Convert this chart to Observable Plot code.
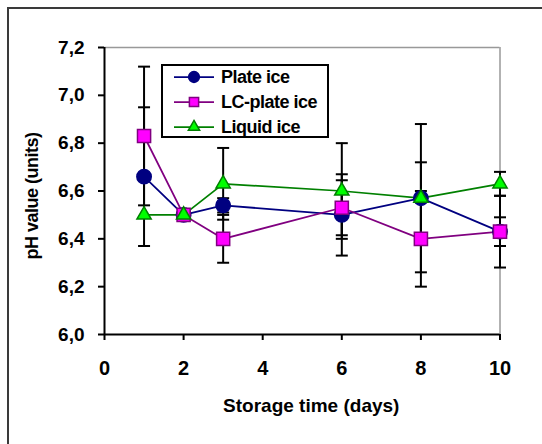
<!DOCTYPE html>
<html><head><meta charset="utf-8">
<script src="https://cdn.jsdelivr.net/npm/d3@7"></script>
<script src="https://cdn.jsdelivr.net/npm/@observablehq/plot@0.6"></script>
<style>
body{margin:0;background:#fff;}
#wrap{position:relative;width:542px;height:444px;overflow:hidden;background:#fff;font-family:"Liberation Sans",Arial,sans-serif;}
#border{position:absolute;left:7px;top:7px;width:600px;height:600px;border:2px solid #3a3a3a;box-sizing:border-box;}
#chart{position:absolute;left:0;top:0;}
#legend{position:absolute;left:161px;top:64px;width:168px;height:74px;border:2px solid #000;box-sizing:border-box;background:#fff;}
#legend svg{display:block;}
</style></head>
<body><div id="wrap"><div id="border"></div><div id="chart"></div><div id="legend"></div></div>
<script>
// ---- data ----
const days = [1, 2, 3, 6, 8, 10];
const seriesNames = ["Plate ice", "LC-plate ice", "Liquid ice"];
const plateIce      = [6.66, 6.50, 6.54, 6.50, 6.57, 6.43];
const plateIceErr   = [0.29, 0.00, 0.03, 0.17, 0.31, 0.06];
const lcPlateIce    = [6.83, 6.50, 6.40, 6.53, 6.40, 6.43];
const lcPlateIceErr = [0.29, 0.00, 0.10, 0.115, 0.20, 0.15];
const liquidIce     = [6.50, 6.50, 6.63, 6.60, 6.57, 6.63];
const liquidIceErr  = [0.00, 0.00, 0.15, 0.20, 0.15, 0.05];
const xTicks = [0, 2, 4, 6, 8, 10];
const yTicks = [6.0, 6.2, 6.4, 6.6, 6.8, 7.0, 7.2];
const xTitle = "Storage time (days)";
const yTitle = "pH value (units)";

// ---- styles ----
const styles = {
  "Plate ice":    {line: "#000080", fill: "#000080", stroke: "#000080", symbol: "circle",   r: 7.2, lr: 5.4},
  "LC-plate ice": {line: "#800080", fill: "#ff00ff", stroke: "#800080", symbol: "square",   r: 7.4, lr: 5.2},
  "Liquid ice":   {line: "#008000", fill: "#00ff00", stroke: "#008000", symbol: "triangle", r: 5.3, lr: 4.2}
};

const valueArrays = [plateIce, lcPlateIce, liquidIce];
const errArrays = [plateIceErr, lcPlateIceErr, liquidIceErr];
const rows = [];
seriesNames.forEach((s, i) => days.forEach((d, j) => rows.push({series: s, day: d, v: valueArrays[i][j], e: errArrays[i][j]})));
const errRows = rows.filter(r => r.e > 0);

const cap = {draw(ctx) { ctx.moveTo(-6, 0); ctx.lineTo(6, 0); }};
const fmt = d => d.toFixed(1).replace(".", ",");
const FF = "'Liberation Sans', Arial, sans-serif";

const marks = [
  Plot.ruleY([7.2], {stroke: "#999", strokeWidth: 1.5}),
  Plot.ruleX([10], {stroke: "#999", strokeWidth: 1.5}),
  Plot.ruleX(errRows, {x: "day", y1: d => d.v - d.e, y2: d => d.v + d.e, stroke: "#000", strokeWidth: 2}),
  Plot.dot(errRows, {x: "day", y: d => d.v + d.e, symbol: cap, stroke: "#000", strokeWidth: 2, r: 3}),
  Plot.dot(errRows, {x: "day", y: d => d.v - d.e, symbol: cap, stroke: "#000", strokeWidth: 2, r: 3}),
  Plot.ruleX([0], {stroke: "#000", strokeWidth: 2}),
  Plot.ruleY([6], {stroke: "#000", strokeWidth: 2}),
  Plot.axisX({ticks: xTicks, tickSize: 6, tickPadding: 20, tickFormat: d => String(d), strokeWidth: 2, fontSize: 20, fontWeight: "bold", label: null}),
  Plot.axisY({ticks: yTicks, tickSize: 6, tickPadding: 14, tickFormat: fmt, strokeWidth: 2, fontSize: 19, fontWeight: "bold", label: null}),
  Plot.text([xTitle], {frameAnchor: "bottom", textAnchor: "middle", lineAnchor: "middle", dx: 9, dy: 71, fontSize: 19, fontWeight: "bold", fill: "#000"}),
  Plot.text([yTitle], {frameAnchor: "left", textAnchor: "middle", lineAnchor: "middle", rotate: -90, dx: -72, dy: 5, fontSize: 18, fontWeight: "bold", fill: "#000"})
];
seriesNames.forEach(s => {
  const st = styles[s];
  const data = rows.filter(r => r.series === s);
  marks.push(Plot.line(data, {x: "day", y: "v", stroke: st.line, strokeWidth: 1.75}));
});
seriesNames.forEach(s => {
  const st = styles[s];
  const data = rows.filter(r => r.series === s);
  marks.push(Plot.dot(data, {x: "day", y: "v", symbol: st.symbol, r: st.r, fill: st.fill, stroke: st.stroke, strokeWidth: 1.5}));
});

const chart = Plot.plot({
  width: 542, height: 444,
  marginLeft: 104, marginRight: 42.5, marginTop: 47, marginBottom: 110,
  x: {domain: [0, 10]},
  y: {domain: [6, 7.2]},
  style: {fontFamily: FF, color: "#000", background: "transparent", overflow: "visible"},
  marks
});
document.getElementById("chart").appendChild(chart);
// enforce label font sizes
d3.select(chart).selectAll('g[aria-label="x-axis tick label"]').style("font-size", "20px").style("font-weight", "bold");
d3.select(chart).selectAll('g[aria-label="y-axis tick label"]').style("font-size", "19px").style("font-weight", "bold");
d3.select(chart).selectAll("text").filter(function() { return this.textContent === yTitle; }).style("letter-spacing", "-0.5px");

// ---- legend ----
const lg = d3.select("#legend").append("svg").attr("width", 164).attr("height", 70);
const symMap = {circle: d3.symbolCircle, square: d3.symbolSquare, triangle: d3.symbolTriangle};
seriesNames.forEach((s, i) => {
  const st = styles[s];
  const y = 11 + i * 25;
  lg.append("line").attr("x1", 11).attr("x2", 51).attr("y1", y).attr("y2", y).attr("stroke", st.line).attr("stroke-width", 1.75);
  lg.append("path").attr("d", d3.symbol(symMap[st.symbol], Math.PI * st.lr * st.lr)()).attr("transform", `translate(31,${y})`)
    .attr("fill", st.fill).attr("stroke", st.stroke).attr("stroke-width", 1.5);
  lg.append("text").attr("x", 58).attr("y", y).attr("dy", "0.35em").attr("font-size", 18).attr("font-weight", "bold")
    .attr("letter-spacing", "-0.5px").attr("font-family", FF).text(s);
});
</script>
</body></html>
